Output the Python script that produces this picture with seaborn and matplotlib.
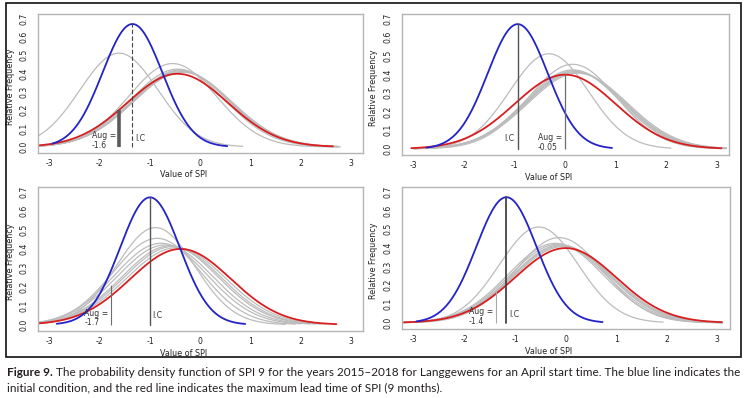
"""Figure 9: PDFs of SPI 9 for 2015-2018, Langgewens, April start."""

import matplotlib

matplotlib.use("Agg")

import matplotlib.pyplot as plt  # noqa: E402
import numpy as np  # noqa: E402
import pandas as pd  # noqa: E402
import seaborn as sns  # noqa: E402

# panel order: top-left, top-right, bottom-left, bottom-right
# initial condition (blue) normal fit
IC_MEAN = [-1.35, -0.94, -1.00, -1.17]
IC_SD = [0.595, 0.595, 0.595, 0.595]
IC_LO = [-2.95, -2.75, -2.86, -2.95]
IC_HI = [0.54, 0.93, 0.90, 0.73]

# maximum lead time, 9 months (red)
LEAD9_MEAN = [-0.45, 0.00, -0.39, 0.00]
LEAD9_SD = [1.00, 1.00, 1.00, 1.00]
LEAD9_LO = [-3.25, -3.05, -3.30, -3.20]
LEAD9_HI = [2.65, 3.10, 2.72, 3.09]

# intermediate lead times (grey)
LEAD_MEANS = [
    [-1.62, -0.55, -0.45, -0.40, -0.38, -0.36, -0.35],
    [-0.32, 0.15, 0.15, 0.18, 0.20, 0.22, 0.25],
    [-0.89, -0.86, -0.78, -0.70, -0.60, -0.55, -0.48],
    [-0.53, -0.13, -0.20, -0.15, -0.10, -0.08, -0.05],
]
LEAD_SDS = [
    [0.78, 0.877, 0.94, 0.95, 0.96, 0.97, 0.98],
    [0.78, 0.877, 0.94, 0.95, 0.96, 0.97, 0.98],
    [0.78, 0.877, 0.93, 0.95, 0.96, 0.97, 0.985],
    [0.78, 0.877, 0.94, 0.95, 0.96, 0.97, 0.98],
]
LEAD_LO = [
    [-3.30, -3.25, -3.25, -3.25, -3.25, -3.25, -3.25],
    [-3.00, -3.00, -3.00, -3.00, -3.00, -3.00, -3.00],
    [-3.30, -3.30, -3.30, -3.30, -3.30, -3.30, -3.30],
    [-3.20, -3.20, -3.20, -3.20, -3.20, -3.20, -3.20],
]
LEAD_HI = [
    [0.85, 2.80, 2.75, 2.75, 2.75, 2.75, 2.75],
    [2.10, 3.20, 3.20, 3.20, 3.20, 3.20, 3.20],
    [1.70, 1.90, 2.00, 2.20, 2.30, 2.40, 2.50],
    [1.93, 3.10, 3.10, 3.10, 3.10, 3.10, 3.10],
]

# observed August SPI markers
AUG_SPI = [-1.62, 0.00, -1.77, -1.37]
AUG_TOP = [0.20, 0.40, 0.21, 0.17]
AUG_TEXT = ["-1.6", "-0.05", "-1.7", "-1.4"]

CAPTION_BOLD = "Figure 9."
CAPTION_LINE1 = (" The probability density function of SPI 9 for the years 2015\u20132018 for "
                 "Langgewens for an April start time. The blue line indicates the")
CAPTION_LINE2 = ("initial condition, and the red line indicates the maximum lead time "
                 "of SPI (9 months).")

# layout (pixels, top-left origin) and per-panel styles
W, H = 749, 398
PANEL_BOX = [(38, 14, 363, 153), (402, 14, 729, 155), (38, 187, 363, 331), (402, 187, 730, 329)]
AUG_STYLE = [
    dict(color="#5a5a5a", lw=2.6),
    dict(color="#6e6e6e", lw=0.9),
    dict(color="#6e6e6e", lw=0.8),
    dict(color="#a8a8a8", lw=0.8),
]
IC_STYLE = [
    dict(color="#444444", lw=0.8, ls=(0, (4, 2))),
    dict(color="#555555", lw=1.0, ls="-"),
    dict(color="#555555", lw=1.0, ls="-"),
    dict(color="#444444", lw=1.3, ls="-"),
]
IC_LABEL_RIGHT = [True, False, True, True]

BLUE = "#2323c8"
RED = "#d81e1e"
GREY = "#bcbcbc"


def normal_pdf(x, mu, sd):
    return np.exp(-0.5 * ((x - mu) / sd) ** 2) / (sd * np.sqrt(2 * np.pi))


def panel_frame(i: int) -> pd.DataFrame:
    rows = []

    def add(name, mu, sd, lo, hi):
        x = np.linspace(lo, hi, 200)
        rows.append(pd.DataFrame({"spi": x, "density": normal_pdf(x, mu, sd), "curve": name}))

    for k, (mu, sd, lo, hi) in enumerate(
        zip(LEAD_MEANS[i], LEAD_SDS[i], LEAD_LO[i], LEAD_HI[i])
    ):
        add(f"lead{k + 1}", mu, sd, lo, hi)
    add("lead9", LEAD9_MEAN[i], LEAD9_SD[i], LEAD9_LO[i], LEAD9_HI[i])
    add("ic", IC_MEAN[i], IC_SD[i], IC_LO[i], IC_HI[i])
    return pd.concat(rows, ignore_index=True)


def draw_panel(fig, i: int) -> None:
    x0, y0, x1, y1 = PANEL_BOX[i]
    ax = fig.add_axes([x0 / W, 1 - y1 / H, (x1 - x0) / W, (y1 - y0) / H])
    df = panel_frame(i)
    names = list(dict.fromkeys(df["curve"]))
    palette = {n: GREY for n in names}
    palette["lead9"] = RED
    palette["ic"] = BLUE
    sizes = {n: 0.9 for n in names}
    sizes["lead9"] = 1.3
    sizes["ic"] = 1.3
    sns.lineplot(
        data=df, x="spi", y="density", hue="curve", hue_order=names,
        palette=palette, size="curve", sizes=sizes, size_order=names,
        estimator=None, sort=False, legend=False, ax=ax,
    )

    ic_peak = normal_pdf(IC_MEAN[i], IC_MEAN[i], IC_SD[i])
    ax.plot([IC_MEAN[i]] * 2, [0, ic_peak], **IC_STYLE[i])
    ax.plot([AUG_SPI[i]] * 2, [0, AUG_TOP[i]], solid_capstyle="butt", **AUG_STYLE[i])

    txt = dict(fontsize=5.6, color="#333333", va="center")
    ax.text(AUG_SPI[i] - 0.06, 0.035, f"Aug =\n{AUG_TEXT[i]}", ha="right",
            multialignment="left", linespacing=1.1, **txt)
    if IC_LABEL_RIGHT[i]:
        ax.text(IC_MEAN[i] + 0.05, 0.047, "I.C", ha="left", **txt)
    else:
        ax.text(IC_MEAN[i] - 0.06, 0.057, "I.C", ha="right", **txt)

    ax.set_xlim(-3.235, 3.25)
    ax.set_ylim(-0.033, 0.725)
    ax.set_xticks(range(-3, 4))
    ax.set_yticks(np.arange(0, 0.71, 0.1))
    ax.set_xticklabels([str(v) for v in range(-3, 4)])
    ax.set_yticklabels([f"{v:.1f}" for v in np.arange(0, 0.71, 0.1)], rotation=90, va="center")
    ax.tick_params(axis="both", direction="out", length=3, width=0.7, color="#999999",
                   labelsize=5.6, labelcolor="#222222", pad=1.5)
    ax.tick_params(axis="y", pad=3.5)
    for sp in ax.spines.values():
        sp.set_color("#b4b4b4")
        sp.set_linewidth(1.0)
    ax.set_xlabel("Value of SPI", fontsize=5.8, color="#222222")
    ax.xaxis.set_label_coords(0.448, -0.125)
    ax.set_ylabel("Relative Frequency", fontsize=5.8, color="#222222")
    ax.yaxis.set_label_coords(-0.072, 0.48)
    ax.grid(False)


def main() -> None:
    sns.set_style("white")
    plt.rcParams["font.family"] = ["DejaVu Sans"]
    fig = plt.figure(figsize=(W / 100, H / 100), dpi=100, facecolor="white")

    for i in range(4):
        draw_panel(fig, i)

    border = plt.Rectangle((6 / W, 1 - 357 / H), (741 - 6) / W, (357 - 3) / H,
                           transform=fig.transFigure, fill=False, ec="#111111", lw=1.2)
    fig.patches.append(border)

    cap = dict(fontsize=8.5, color="#231f20", family=["Lato", "DejaVu Sans"])
    t = fig.text(7 / W, 1 - 372 / H, CAPTION_BOLD, fontweight="bold", va="center", **cap)
    t2 = plt.annotate(CAPTION_LINE1, xy=(1, 0.5), xycoords=t, va="center", ha="left",
                      annotation_clip=False, **cap)
    t2.set_figure(fig)
    fig.text(7 / W, 1 - 388 / H, CAPTION_LINE2, va="center", **cap)

    fig.savefig("out.png", dpi=100, facecolor="white")


if __name__ == "__main__":
    main()
